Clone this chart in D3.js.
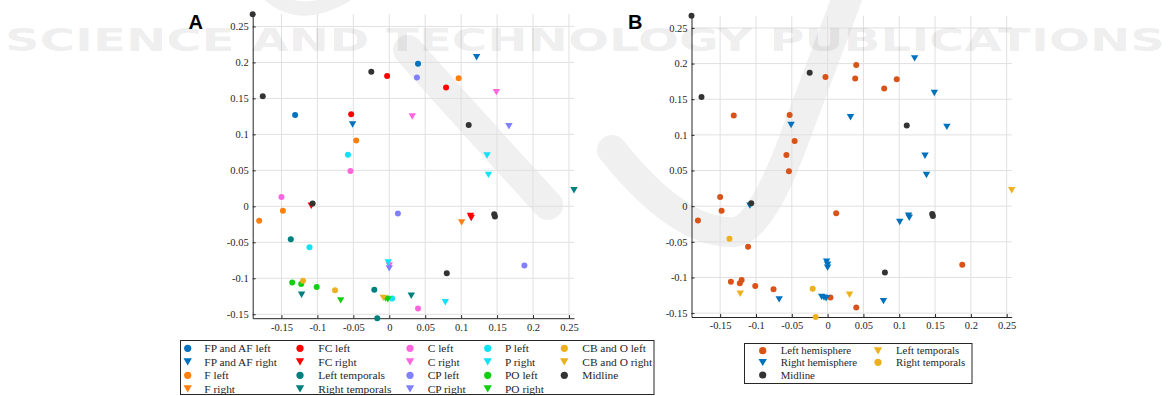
<!DOCTYPE html>
<html>
<head>
<meta charset="utf-8">
<script src="https://cdn.jsdelivr.net/npm/d3@7"></script>
<style>
  html, body { margin: 0; padding: 0; background: #fff; }
  svg { display: block; }
</style>
</head>
<body>
<svg id="chart" width="1172" height="396"></svg>
<script>
// Electrode-group coordinates, one array of [x, y] pairs per group
const fpafLeft      = [[-0.131, 0.127], [0.040, 0.198]];
const fpafRight     = [[-0.051, 0.114], [0.1215, 0.2075]];
const fLeft         = [[-0.046, 0.0915], [0.0965, 0.178], [-0.148, -0.0063], [-0.181, -0.020]];
const fRight        = [[0.1007, -0.022]];
const fcLeft        = [[-0.003, 0.181], [-0.053, 0.128], [0.079, 0.165]];
const fcRight       = [[-0.1085, 0.001], [0.113, -0.013], [0.114, -0.016]];
const cLeft         = [[-0.054, 0.049], [-0.150, 0.0128], [0.040, -0.142]];
const cRight        = [[0.032, 0.125], [0.149, 0.159], [0.000, -0.082]];
const pLeft         = [[-0.0575, 0.0716], [-0.111, -0.0568], [0.004, -0.128]];
const pRight        = [[0.136, 0.071], [0.138, 0.044], [-0.0014, -0.0776], [0.078, -0.133]];
const cpLeft        = [[0.0385, 0.179], [0.012, -0.010], [0.188, -0.0823]];
const cpRight       = [[0.1665, 0.1115], [0.000, -0.086]];
const poLeft        = [[-0.135, -0.106], [-0.1225, -0.108], [-0.101, -0.112]];
const poRight       = [[-0.0676, -0.1305], [-0.005, -0.128], [-0.002, -0.129]];
const cboLeft       = [[-0.120, -0.1036], [-0.0755, -0.1166]];
const cboRight      = [[-0.0083, -0.127]];
const leftTemporal  = [[-0.137, -0.0457], [-0.0208, -0.116], [-0.0167, -0.1555]];
const rightTemporal = [[-0.122, -0.1227], [0.0306, -0.124], [0.257, 0.0225]];
const midline       = [[-0.190, 0.267], [-0.176, 0.153], [-0.025, 0.187], [0.1105, 0.113],
                       [-0.1066, 0.004], [0.146, -0.011], [0.147, -0.014], [0.080, -0.093]];

// Tick values shared by both panels
const xTicks = [-0.15, -0.1, -0.05, 0, 0.05, 0.1, 0.15, 0.2, 0.25];
const yTicks = [-0.15, -0.1, -0.05, 0, 0.05, 0.1, 0.15, 0.2, 0.25];

// Panel A groups (legend is column-major, 4 rows)
const groupsA = [
  { label: "FP and AF left",   pts: fpafLeft,      shape: "o", color: "#0072BD" },
  { label: "FP and AF right",  pts: fpafRight,     shape: "v", color: "#0072BD" },
  { label: "F left",           pts: fLeft,         shape: "o", color: "#FF800E" },
  { label: "F right",          pts: fRight,        shape: "v", color: "#FF800E" },
  { label: "FC left",          pts: fcLeft,        shape: "o", color: "#FF0000" },
  { label: "FC right",         pts: fcRight,       shape: "v", color: "#FF0000" },
  { label: "Left temporals",   pts: leftTemporal,  shape: "o", color: "#007F7F" },
  { label: "Right temporals",  pts: rightTemporal, shape: "v", color: "#007F7F" },
  { label: "C left",           pts: cLeft,         shape: "o", color: "#FF66DD" },
  { label: "C right",          pts: cRight,        shape: "v", color: "#FF66DD" },
  { label: "CP left",          pts: cpLeft,        shape: "o", color: "#8080FF" },
  { label: "CP right",         pts: cpRight,       shape: "v", color: "#8080FF" },
  { label: "P left",           pts: pLeft,         shape: "o", color: "#11E2F8" },
  { label: "P right",          pts: pRight,        shape: "v", color: "#11E2F8" },
  { label: "PO left",          pts: poLeft,        shape: "o", color: "#11D011" },
  { label: "PO right",         pts: poRight,       shape: "v", color: "#11D011" },
  { label: "CB and O left",    pts: cboLeft,       shape: "o", color: "#EDB120" },
  { label: "CB and O right",   pts: cboRight,      shape: "v", color: "#EDB120" },
  { label: "Midline",          pts: midline,       shape: "o", color: "#333333" }
];

// Panel B groups: hemispheres pooled
const leftHemi  = [].concat(fpafLeft, fLeft, fcLeft, cLeft, pLeft, cpLeft, poLeft, cboLeft);
const rightHemi = [].concat(fpafRight, fRight, fcRight, cRight, pRight, cpRight, poRight, cboRight);
const groupsB = [
  { label: "Left hemisphere",  pts: leftHemi,      shape: "o", color: "#D95319" },
  { label: "Right hemisphere", pts: rightHemi,     shape: "v", color: "#0072BD" },
  { label: "Midline",          pts: midline,       shape: "o", color: "#333333" },
  { label: "Left temporals",   pts: rightTemporal, shape: "v", color: "#EDB120" },
  { label: "Right temporals",  pts: leftTemporal,  shape: "o", color: "#EDB120" }
];

const SERIF = "'Liberation Serif', 'Times New Roman', serif";
const svg = d3.select("#chart");
const allPts = groupsA.flatMap(g => g.pts);
const xExtent = d3.extent(allPts, d => d[0]);
const yExtent = d3.extent(allPts, d => d[1]);

const triPath = "M-3.7,-3L3.7,-3L0,3.4Z";

// faint publisher swooshes behind everything
const wm = svg.append("g").attr("fill", "none").attr("stroke", "#000").attr("stroke-opacity", 0.06)
  .attr("stroke-linecap", "round");
wm.append("path").attr("d", "M268,-6Q300,22 345,-4").attr("stroke-width", 14);
wm.append("path").attr("d", "M408,50Q470,120 548,205").attr("stroke-width", 30);
wm.append("path").attr("d", "M612,150Q680,235 735,232Q760,228 790,150L850,-10").attr("stroke-width", 30);

function fmt(d) { return d === 0 ? "0" : String(+d.toFixed(2)); }

function panel(opts) {
  const { left, top, width, height, groups, letter, letterX } = opts;
  const x = d3.scaleLinear().domain(xExtent).range([left, left + width]);
  const y = d3.scaleLinear().domain(yExtent).range([top + height, top]);
  const g = svg.append("g");

  // grid
  g.append("g").selectAll("line").data(xTicks).join("line")
    .attr("x1", d => x(d)).attr("x2", d => x(d))
    .attr("y1", top).attr("y2", top + height)
    .attr("stroke", "#e0e0e0").attr("stroke-width", 1);
  g.append("g").selectAll("line").data(yTicks).join("line")
    .attr("x1", left).attr("x2", left + width)
    .attr("y1", d => y(d)).attr("y2", d => y(d))
    .attr("stroke", "#e0e0e0").attr("stroke-width", 1);

  // axes, ticks pointing inward
  const xAxis = d3.axisBottom(x).tickValues(xTicks).tickSizeInner(-3).tickSizeOuter(0)
    .tickPadding(5).tickFormat(fmt);
  const yAxis = d3.axisLeft(y).tickValues(yTicks).tickSizeInner(-3).tickSizeOuter(0)
    .tickPadding(4).tickFormat(fmt);
  const gx = g.append("g").attr("transform", `translate(0,${top + height})`).call(xAxis);
  const gy = g.append("g").attr("transform", `translate(${left},0)`).call(yAxis);
  [gx, gy].forEach(a => {
    a.attr("font-family", null).attr("font-size", null);
    a.select(".domain").attr("stroke", "#262626").attr("stroke-width", 1);
    a.selectAll(".tick line").attr("stroke", "#262626");
    a.selectAll("text").style("font-family", SERIF)
      .style("font-size", "10.5px").attr("fill", "#262626");
  });

  // points
  groups.forEach(grp => {
    const sel = g.append("g").selectAll("g").data(grp.pts).join("g")
      .attr("transform", p => `translate(${x(p[0])},${y(p[1])})`);
    if (grp.shape === "o") sel.append("circle").attr("r", 3).attr("fill", grp.color);
    else sel.append("path").attr("d", triPath).attr("fill", grp.color);
  });

  // panel letter
  svg.append("text").attr("x", letterX).attr("y", 28.5)
    .style("font-family", "'Liberation Sans', Arial, sans-serif")
    .style("font-weight", "bold").style("font-size", "20px").text(letter);
}

panel({ left: 252.7, top: 14.2, width: 321.3, height: 304, groups: groupsA, letter: "A", letterX: 188.5 });
panel({ left: 691.5, top: 15.8, width: 320.2, height: 301.2, groups: groupsB, letter: "B", letterX: 628 });

// legends
function legend(opts) {
  const { box, colMarkerX, colTextX, rowY, groups, rows, fontSize } = opts;
  const g = svg.append("g");
  g.append("rect").attr("x", box[0]).attr("y", box[1]).attr("width", box[2]).attr("height", box[3])
    .attr("fill", "#fff").attr("stroke", "#262626").attr("stroke-width", 1);
  groups.forEach((grp, i) => {
    const c = Math.floor(i / rows), r = i % rows;
    const m = g.append("g").attr("transform", `translate(${colMarkerX[c]},${rowY[r]})`);
    if (grp.shape === "o") m.append("circle").attr("r", 3.6).attr("fill", grp.color);
    else m.append("path").attr("d", "M-4.2,-3.4L4.2,-3.4L0,3.8Z").attr("fill", grp.color);
    g.append("text").attr("x", colTextX[c]).attr("y", rowY[r]).attr("dy", "0.34em")
      .style("font-family", SERIF).style("font-size", fontSize + "px")
      .attr("fill", "#262626").text(grp.label);
  });
}

legend({
  box: [180.5, 340.5, 473.5, 54], rows: 4, fontSize: 11.4, groups: groupsA,
  colMarkerX: [187.7, 300, 410, 487.7, 564.3],
  colTextX: [204.3, 318.3, 427.7, 505, 582.3],
  rowY: [348.3, 361.7, 375.3, 388.7]
});
legend({
  box: [744.5, 343.5, 227.5, 40], rows: 3, fontSize: 10.8, groups: groupsB,
  colMarkerX: [762.7, 878], colTextX: [780.7, 896],
  rowY: [350.7, 362.3, 375]
});

// publisher watermark text
svg.append("text").attr("x", 5).attr("y", 51)
  .style("font-family", "'DejaVu Sans', sans-serif").style("font-weight", "bold")
  .style("font-size", "32px").attr("textLength", 1160).attr("lengthAdjust", "spacingAndGlyphs")
  .attr("fill", "#000").attr("fill-opacity", 0.085)
  .text("SCIENCE AND TECHNOLOGY PUBLICATIONS");
</script>
</body>
</html>
